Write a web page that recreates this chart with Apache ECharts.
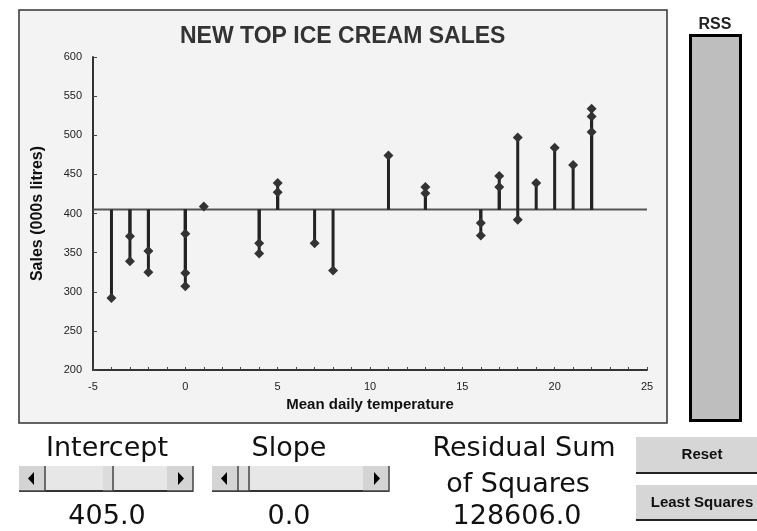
<!DOCTYPE html>
<html>
<head>
<meta charset="utf-8">
<title>New Top Ice Cream Sales</title>
<script src="https://cdn.jsdelivr.net/npm/echarts@6/dist/echarts.min.js"></script>
<style>
  html, body { margin: 0; padding: 0; background: #ffffff; }
  #chart { width: 757px; height: 531px; }
</style>
</head>
<body>
<div id="chart"></div>
<script>
// data
var temps = [-4, -3, -3, -2, -2, 0, 0, 0, 1, 4, 4, 5, 5, 7, 8, 11, 13, 13, 16, 16, 17, 17, 18, 18, 19, 20, 21, 22, 22, 22]
var sales = [292, 371, 339, 352, 325, 374, 324, 307, 409, 362, 349, 439, 427, 362, 327, 474, 434, 426, 388, 372, 448, 434, 497, 392, 439, 484, 462, 534, 524, 504]
var intercept = 405.0
var slope = 0.0
var rss = 128606.0
var rssScaleMax = 128606.0
var lineEnds = [-5, 25]

var points = temps.map(function (t, i) { return [t, sales[i]] })
var fitLine = lineEnds.map(function (x) { return [x, intercept + slope * x] })

var FONT = 'Liberation Sans, Arial, sans-serif'
var BIG = 'DejaVu Sans, sans-serif'

// scroll bar drawn with graphic elements (left, top, width, thumb x)
function scrollBar (x, y, w, thumbX) {
  var h = 25
  var bw = 26
  return {
    type: 'group',
    children: [
      { type: 'rect', shape: { x: x, y: y, width: w, height: h }, style: { fill: '#e7e7e7' } },
      { type: 'line', shape: { x1: x, y1: y + h, x2: x + w, y2: y + h }, style: { stroke: '#333', lineWidth: 2 } },
      // left button
      { type: 'rect', shape: { x: x, y: y, width: bw, height: h }, style: { fill: '#d4d4d4' } },
      { type: 'polyline', shape: { points: [[x + bw, y], [x + bw, y + h], [x, y + h]] }, style: { stroke: '#444', lineWidth: 1.5, fill: null } },
      { type: 'polygon', shape: { points: [[x + 9, y + h / 2], [x + 15, y + 6], [x + 15, y + h - 6]] }, style: { fill: '#000' } },
      // right button
      { type: 'rect', shape: { x: x + w - bw, y: y, width: bw, height: h }, style: { fill: '#d4d4d4' } },
      { type: 'polyline', shape: { points: [[x + w, y], [x + w, y + h], [x + w - bw, y + h]] }, style: { stroke: '#444', lineWidth: 1.5, fill: null } },
      { type: 'polygon', shape: { points: [[x + w - 9, y + h / 2], [x + w - 15, y + 6], [x + w - 15, y + h - 6]] }, style: { fill: '#000' } },
      // thumb
      { type: 'rect', shape: { x: thumbX, y: y, width: 10, height: h }, style: { fill: '#dcdcdc' } },
      { type: 'polyline', shape: { points: [[thumbX + 10, y], [thumbX + 10, y + h], [thumbX, y + h]] }, style: { stroke: '#444', lineWidth: 1.5, fill: null } }
    ]
  }
}

function button (y, h, label) {
  return {
    type: 'group',
    children: [
      { type: 'rect', shape: { x: 636, y: y, width: 121, height: h }, style: { fill: '#d6d6d6' } },
      { type: 'line', shape: { x1: 636, y1: y + h, x2: 757, y2: y + h }, style: { stroke: '#222', lineWidth: 2 } },
      { type: 'text', x: 702, y: y + h / 2, style: { text: label, font: 'bold 15px ' + FONT, fill: '#111', align: 'center', verticalAlign: 'middle' } }
    ]
  }
}

function bigText (x, y, s) {
  return { type: 'text', x: x, y: y, style: { text: s, font: '27px ' + BIG, fill: '#111', align: 'center', verticalAlign: 'middle' } }
}

var myChart = echarts.init(document.getElementById('chart'))
myChart.setOption({
  animation: false,
  backgroundColor: '#ffffff',
  title: {
    text: 'NEW TOP ICE CREAM SALES',
    left: 180,
    top: 25,
    padding: 0,
    textStyle: { fontFamily: FONT, fontSize: 23, fontWeight: 'bold', color: '#333' }
  },
  graphic: [
    { type: 'rect', z: -10, shape: { x: 19, y: 10, width: 648, height: 413 }, style: { fill: '#f3f3f3', stroke: '#333', lineWidth: 1.5 } },
    { type: 'text', x: 715, y: 25, style: { text: 'RSS', font: 'bold 16px ' + FONT, fill: '#222', align: 'center', verticalAlign: 'middle' } },
    bigText(107, 449, 'Intercept'),
    bigText(289, 449, 'Slope'),
    bigText(524, 449, 'Residual Sum'),
    bigText(518, 485, 'of Squares'),
    bigText(107, 517, intercept.toFixed(1)),
    bigText(289, 517, slope.toFixed(1)),
    bigText(517, 517, rss.toFixed(1)),
    scrollBar(19, 466, 174, 103),
    scrollBar(212, 466, 177, 239),
    button(437, 36, 'Reset'),
    button(485, 35, 'Least Squares')
  ],
  grid: [
    { left: 93, right: 110, top: 57, bottom: 161 },
    { left: 689, top: 34, width: 53, height: 388 }
  ],
  xAxis: [{
    type: 'value',
    min: -5,
    max: 25,
    interval: 5,
    name: 'Mean daily temperature',
    nameLocation: 'middle',
    nameGap: 27,
    nameTextStyle: { fontFamily: FONT, fontSize: 15, fontWeight: 'bold', color: '#111' },
    axisLine: { show: true, onZero: false, lineStyle: { color: '#333', width: 2 } },
    axisTick: { show: true, inside: true, length: 3, lineStyle: { color: '#444' } },
    minorTick: { show: true, splitNumber: 5, length: 3, lineStyle: { color: '#444' } },
    axisLabel: { fontFamily: FONT, fontSize: 11, color: '#222', margin: 11 },
    splitLine: { show: false }
  }, {
    type: 'category',
    gridIndex: 1,
    data: ['RSS'],
    show: false
  }],
  yAxis: [{
    type: 'value',
    min: 200,
    max: 600,
    interval: 50,
    name: 'Sales (000s litres)',
    nameLocation: 'middle',
    nameGap: 47,
    nameTextStyle: { fontFamily: FONT, fontSize: 16, fontWeight: 'bold', color: '#111' },
    axisLine: { show: true, onZero: false, lineStyle: { color: '#333', width: 2 } },
    axisTick: { show: true, inside: true, length: 4, lineStyle: { color: '#444' } },
    axisLabel: { fontFamily: FONT, fontSize: 11, color: '#222', margin: 11 },
    splitLine: { show: false }
  }, {
    type: 'value',
    gridIndex: 1,
    min: 0,
    max: rssScaleMax,
    show: false
  }],
  series: [{
    // fitted line
    type: 'line',
    data: fitLine,
    symbol: 'none',
    lineStyle: { color: '#555', width: 2 },
    z: 1
  }, {
    // residual stems
    type: 'custom',
    data: points,
    z: 2,
    renderItem: function (params, api) {
      var x = api.value(0)
      var p0 = api.coord([x, intercept + slope * x])
      var p1 = api.coord([x, api.value(1)])
      return {
        type: 'line',
        shape: { x1: p0[0], y1: p0[1], x2: p1[0], y2: p1[1] },
        style: { stroke: '#222', lineWidth: 3 }
      }
    }
  }, {
    type: 'scatter',
    data: points,
    symbol: 'diamond',
    symbolSize: 10,
    itemStyle: { color: '#333', opacity: 1 },
    z: 3
  }, {
    // RSS gauge
    type: 'bar',
    xAxisIndex: 1,
    yAxisIndex: 1,
    data: [rss],
    barWidth: '100%',
    itemStyle: { color: '#bebebe', borderColor: '#000', borderWidth: 3 }
  }]
}, true)
</script>
</body>
</html>
